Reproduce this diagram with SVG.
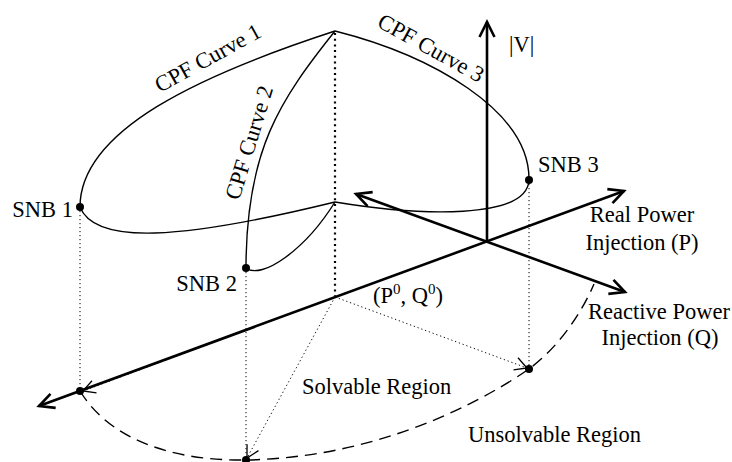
<svg xmlns="http://www.w3.org/2000/svg" width="732" height="462" viewBox="0 0 732 462">
<style>
text{font-family:"Liberation Serif","Times New Roman",serif;font-size:22.5px;fill:#000}
.axis{stroke:#000;stroke-width:2.6;fill:none;marker-start:url(#big);marker-end:url(#big)}
.vaxis{stroke:#000;stroke-width:2.6;fill:none;marker-end:url(#big)}
.curve{stroke:#000;stroke-width:1.4;fill:none}
.dot{stroke:#000;stroke-width:1;fill:none;stroke-dasharray:1.2 2.8}
.bigdot{stroke:#000;stroke-width:2.2;fill:none;stroke-dasharray:2 3.7}
.darrow{stroke:#000;stroke-width:1;fill:none;stroke-dasharray:1.2 2.8;marker-end:url(#small)}
.dash{stroke:#000;stroke-width:1.4;fill:none;stroke-dasharray:12 7}
.pt{fill:#000}
</style>
<defs>
<marker id="big" markerUnits="userSpaceOnUse" markerWidth="30" markerHeight="30" viewBox="-20 -15 30 30" refX="0" refY="0" orient="auto-start-reverse">
<path d="M-15,-7.5 L0,0 L-15,7.5" fill="none" stroke="#000" stroke-width="2.6" stroke-linejoin="miter"/>
</marker>
<marker id="small" markerUnits="userSpaceOnUse" markerWidth="24" markerHeight="24" viewBox="-16 -12 24 24" refX="0" refY="0" orient="auto">
<path d="M-12,-6.5 L0,0 L-12,6.5" fill="none" stroke="#000" stroke-width="1.3"/>
</marker>
</defs>
<g id="projections">
<path class="bigdot" d="M335,33 L335,296"/>
<path class="dot" d="M80,211 L80,388"/>
<path class="dot" d="M246,272 L246,456"/>
<path class="dot" d="M529,184 L529,365"/>
</g>
<g id="connectors">
<path class="darrow" d="M335,297 L83,391"/>
<path class="darrow" d="M335,297 L247,458"/>
<path class="darrow" d="M335,297 L527,368"/>
<path class="dash" d="M80,391 C115,448 190,461 246,460 C360,458 460,416 529,369 C560,346 582,312 594,284"/>
</g>
<g id="axes">
<path class="axis" d="M39,406 L624,191"/>
<path class="axis" d="M356,194 L625,292"/>
<path class="vaxis" d="M487,241 L487,22"/>
</g>
<g id="curve1">
<path class="curve" d="M335,31 C200,75 80,130 80,207"/>
<path class="curve" d="M80,207 C95,245 180,240 335,202"/>
<text transform="translate(160,93) rotate(-29)">CPF Curve 1</text>
</g>
<g id="curve2">
<path class="curve" d="M335,31 C280,100 246,150 246,268"/>
<path class="curve" d="M246,268 C262,280 305,250 335,202"/>
<text transform="translate(239,201) rotate(-73)">CPF Curve 2</text>
</g>
<g id="curve3">
<path class="curve" d="M335,31 C430,55 530,110 529,180"/>
<path class="curve" d="M529,180 C527,220 420,216 335,202"/>
<text transform="translate(376,26) rotate(29)">CPF Curve 3</text>
</g>
<g id="snb1"><circle class="pt" cx="80" cy="207" r="4"/><text x="73" y="217" text-anchor="end">SNB 1</text></g>
<g id="snb2"><circle class="pt" cx="246" cy="268" r="4"/><text x="237" y="291" text-anchor="end">SNB 2</text></g>
<g id="snb3"><circle class="pt" cx="529" cy="180" r="4"/><text x="538" y="172">SNB 3</text></g>
<g id="proj1"><circle class="pt" cx="80" cy="391" r="4"/></g>
<g id="proj2"><circle class="pt" cx="246" cy="460" r="4"/></g>
<g id="proj3"><circle class="pt" cx="529" cy="369" r="4"/></g>
<g id="labels">
<text x="509" y="52">|V|</text>
<text x="642" y="222" text-anchor="middle">Real Power</text>
<text x="642" y="250" text-anchor="middle">Injection (P)</text>
<text x="659" y="319" text-anchor="middle">Reactive Power</text>
<text x="660" y="345" text-anchor="middle">Injection (Q)</text>
<text x="373" y="303">(P<tspan font-size="15" dy="-9">0</tspan><tspan dy="9">, Q</tspan><tspan font-size="15" dy="-9">0</tspan><tspan dy="9">)</tspan></text>
<text x="302" y="394">Solvable Region</text>
<text x="468" y="442">Unsolvable Region</text>
</g>
</svg>
